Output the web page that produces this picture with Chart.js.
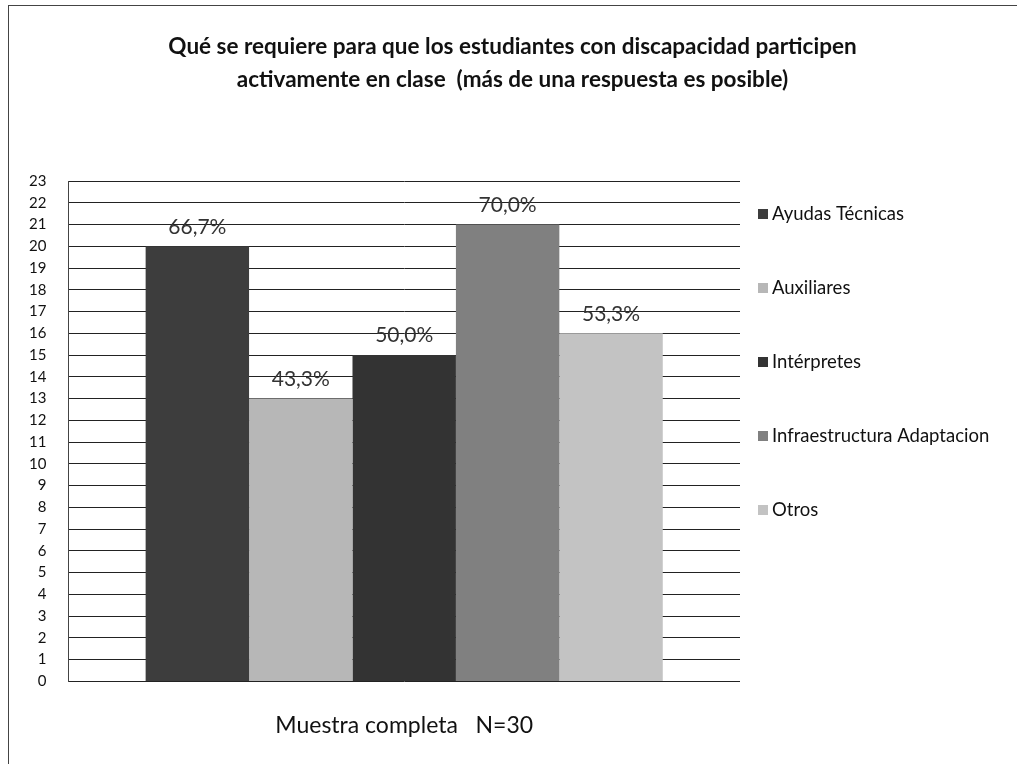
<!DOCTYPE html>
<html>
<head>
<meta charset="utf-8">
<script src="https://cdn.jsdelivr.net/npm/chart.js@4"></script>
<style>
  body { margin: 0; background: #fff; }
  #frame {
    position: absolute; left: 8px; top: 5px; width: 1009px; height: 759px;
    border-top: 1px solid #444; border-left: 1px solid #444;
  }
  #wrap { position: absolute; left: 0; top: 0; width: 1017px; height: 764px; }
</style>
</head>
<body>
<div id="frame"></div>
<div id="wrap"><canvas id="barChart"></canvas></div>
<script>
const categories = ["Muestra completa   N=30"];
const seriesNames = ["Ayudas Técnicas", "Auxiliares", "Intérpretes", "Infraestructura Adaptacion", "Otros"];
const seriesValues = [20, 13, 15, 21, 16];
const percentLabels = ["66,7%", "43,3%", "50,0%", "70,0%", "53,3%"];
const seriesColors = ["#3d3d3d", "#b7b7b7", "#333333", "#808080", "#c3c3c3"];
const titleLines = [
  "Qué se requiere para que los estudiantes con discapacidad participen",
  "activamente en clase  (más de una respuesta es posible)"
];

// title centred on the whole page, not on the plot
const pageTitle = {
  id: "pageTitle",
  afterDraw(chart) {
    const ctx = chart.ctx;
    ctx.save();
    ctx.font = "bold 22.5px Lato";
    ctx.fillStyle = "#111";
    ctx.textAlign = "center";
    ctx.textBaseline = "middle";
    titleLines.forEach((line, i) => {
      ctx.fillText(line, chart.width / 2 + 4, 47 + i * 33);
    });
    ctx.restore();
  },
};

// percent labels above each bar
const percentPlugin = {
  id: "percentLabels",
  afterDatasetsDraw(chart) {
    const ctx = chart.ctx;
    ctx.save();
    ctx.font = "21px Lato";
    ctx.fillStyle = "#333";
    ctx.textAlign = "center";
    ctx.textBaseline = "bottom";
    chart.data.datasets.forEach((ds, i) => {
      const bar = chart.getDatasetMeta(i).data[0];
      ctx.fillText(percentLabels[i], bar.x, bar.y - 9);
    });
    ctx.restore();
  },
};

// legend on the right, spaced like the original
const sideLegend = {
  id: "sideLegend",
  afterDraw(chart) {
    const ctx = chart.ctx;
    const area = chart.chartArea;
    ctx.save();
    ctx.font = "18.5px Lato";
    ctx.textBaseline = "middle";
    chart.data.datasets.forEach((ds, i) => {
      const y = area.top + 33 + i * 74;
      ctx.fillStyle = ds.backgroundColor;
      ctx.fillRect(area.right + 18, y - 5, 10, 10);
      ctx.fillStyle = "#111";
      ctx.fillText(ds.label, area.right + 32, y);
    });
    ctx.restore();
  },
};

const datasets = seriesNames.map((name, i) => ({
  label: name,
  data: [seriesValues[i]],
  backgroundColor: seriesColors[i],
  barPercentage: 1,
  categoryPercentage: 0.77,
}));

const config = {
  type: "bar",
  data: { labels: categories, datasets: datasets },
  options: {
    responsive: false,
    animation: false,
    layout: { padding: { left: 7, right: 277, top: 181, bottom: 3 } },
    plugins: {
      legend: { display: false },
      tooltip: { enabled: false },
      title: { display: false },
    },
    scales: {
      x: {
        grid: { display: false },
        border: { display: false },
        ticks: { color: "#111", font: { family: "Lato", size: 23 }, padding: 22 },
      },
      y: {
        min: 0,
        max: 23,
        ticks: { stepSize: 1, color: "#111", font: { family: "Lato", size: 15 }, padding: 22 },
        grid: { color: "#222", lineWidth: 1, drawTicks: false },
        border: { color: "#444" },
      },
    },
  },
  plugins: [pageTitle, percentPlugin, sideLegend],
};

const canvasElement = document.getElementById("barChart");
canvasElement.width = 1017;
canvasElement.height = 764;
new Chart(canvasElement, config);
</script>
</body>
</html>
